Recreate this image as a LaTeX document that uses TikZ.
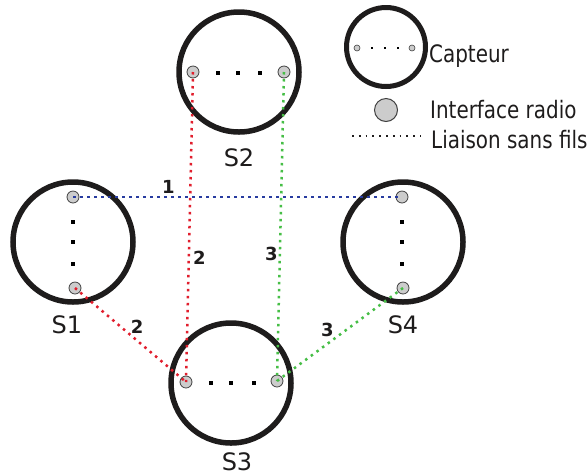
\documentclass[tikz,border=0pt]{standalone}
\usepackage{fontspec}
\setmainfont{DejaVu Sans}
\newfontfamily\legendfont[FakeStretch=0.83]{DejaVu Sans}
\usetikzlibrary{positioning}

\definecolor{bleu}{RGB}{40,60,160}
\definecolor{rouge}{RGB}{225,30,45}
\definecolor{vert}{RGB}{70,190,70}
\definecolor{anneau}{RGB}{30,28,28}

\tikzset{
  capteur/.style={circle, draw=anneau, line width=5.5pt, minimum size=120pt, inner sep=0pt},
  iface/.style={circle, draw=black!75, fill=black!20, line width=0.8pt, minimum size=12pt, inner sep=0pt},
  point/.style={fill=black, minimum size=4.5pt, inner sep=0pt},
  liaison/.style={line width=2.5pt, dash pattern=on 2.5pt off 4.5pt},
  num/.style={font=\fontsize{18}{18}\selectfont\bfseries, inner sep=1pt, text=anneau},
  etiq/.style={font=\fontsize{24}{24}\selectfont, inner sep=0pt, text=anneau},
  leg/.style={font=\legendfont\fontsize{24}{24}\selectfont, inner sep=0pt, anchor=base west, text=anneau},
}

\begin{document}
\begin{tikzpicture}[x=1pt, y=-1pt]
    \useasboundingbox (0,0) rectangle (588,475);

    % Les quatre capteurs
    \node[capteur] (s1) at (73,242) {};
    \node[capteur] (s2) at (239,72) {};
    \node[capteur] (s3) at (231,383) {};
    \node[capteur] (s4) at (403,242) {};

    \node[etiq] (n1) at (67,325) {S1};
    \node[etiq] (n2) at (239,158) {S2};
    \node[etiq] (n3) at (237,462) {S3};
    \node[etiq] (n4) at (403,325) {S4};

    % Points de suspension dans chaque capteur
    \foreach \y in {222,242,264} {
        \node[point] at (73,\y) {};
        \node[point] at (402,\y) {};
    }
    \foreach \x in {218,238,260} \node[point] at (\x,73) {};
    \foreach \x in {211,231,254} \node[point] at (\x,383) {};

    % Interfaces radio
    \node[iface] (s1a) at (73,197) {};
    \node[iface] (s1b) at (75,288) {};
    \node[iface] (s2a) at (193,72) {};
    \node[iface] (s2b) at (284,72) {};
    \node[iface] (s3a) at (186,382) {};
    \node[iface] (s3b) at (277,381) {};
    \node[iface] (s4a) at (402,197) {};
    \node[iface] (s4b) at (403,288) {};

    % Liaisons sans fils
    \draw[liaison, bleu] (s1a.center) -- (s4a.center) node[num, pos=0.29, above=1pt] {1};
    \draw[liaison, rouge] (s2a.center) -- (s3a.center) node[num, pos=0.6, right=2pt] {2};
    \draw[liaison, vert] (s2b.center) -- (s3b.center) node[num, pos=0.59, left=0pt] {3};
    \draw[liaison, rouge] (s1b.center) -- (s3a.center) node[num, pos=0.56, above=5pt] {2};
    \draw[liaison, vert] (s4b.center) -- (s3b.center) node[num, pos=0.6, above=5pt] {3};

    % Legende
    \node[capteur, minimum size=79pt, line width=5pt] (lcapt) at (386,47) {};
    \node[iface, minimum size=6pt, line width=0.6pt] (lca) at (357,48) {};
    \node[iface, minimum size=6pt, line width=0.6pt] (lcb) at (412,48) {};
    \foreach \x in {372,385,398} \node[point, minimum size=1.8pt] at (\x,48) {};
    \node[leg] (tcapt) at (429,62) {Capteur};

    \node[iface, minimum size=23pt, line width=1pt] (liface) at (386,110) {};
    \node[leg] (tiface) at (430,118) {Interface radio};

    \coordinate (lla) at (352,136);
    \coordinate (llb) at (421,136);
    \draw[line width=1.8pt, dash pattern=on 1.8pt off 5pt, anneau] (lla) -- (llb);
    \node[leg] (tlien) at (431,148) {Liaison sans fils};
\end{tikzpicture}
\end{document}
